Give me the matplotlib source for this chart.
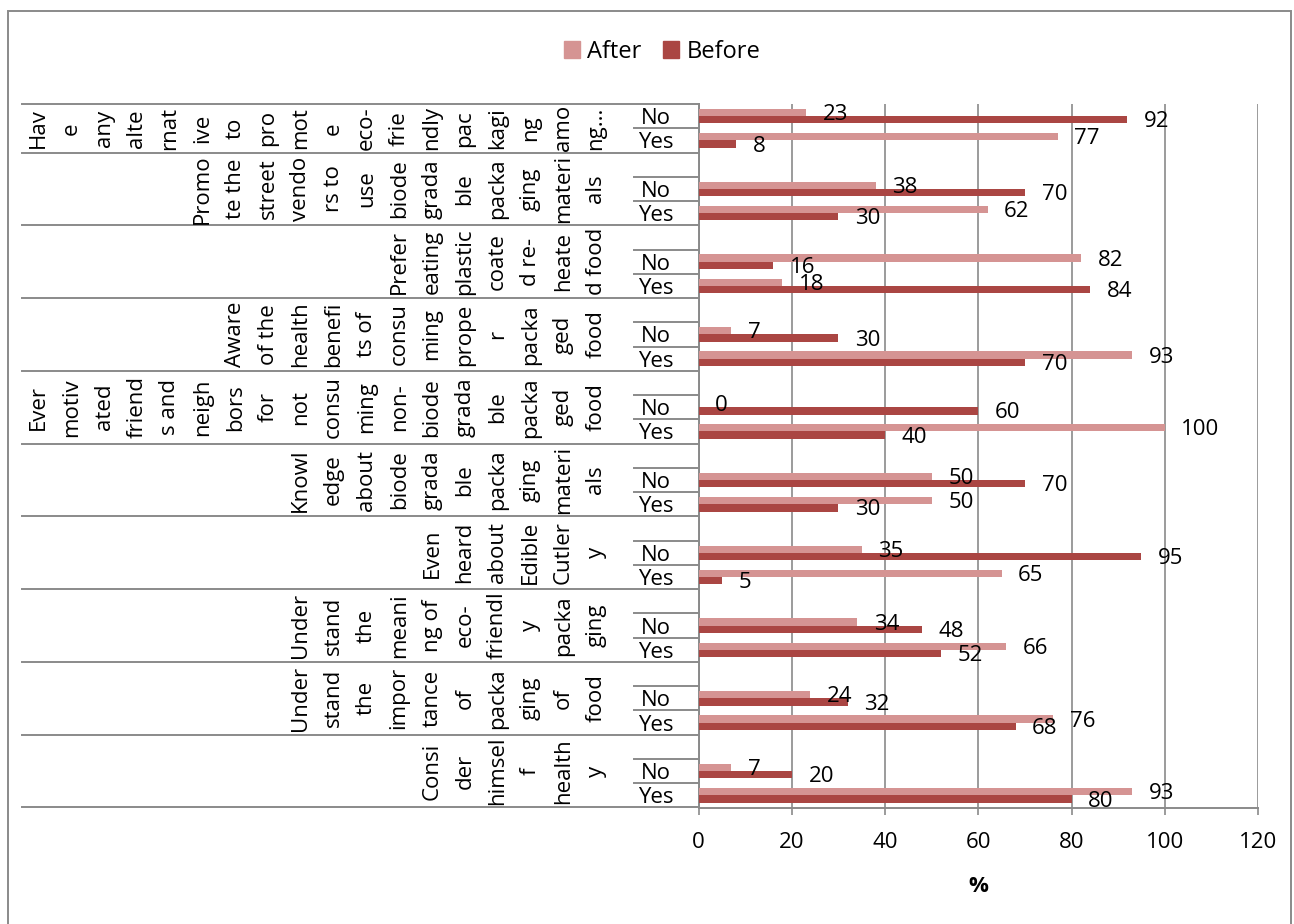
import matplotlib
matplotlib.use("Agg")
import matplotlib.pyplot as plt
from matplotlib.lines import Line2D
from matplotlib.patches import Patch, Rectangle
from matplotlib import transforms

plt.rcParams['font.family'] = ['Open Sans', 'DejaVu Sans']
plt.rcParams['font.size'] = 16

# questions, top to bottom, as the wrapped lines shown on the category axis
questions = [
    ["Hav", "e", "any", "alte", "rnat", "ive", "to", "pro", "mot", "e", "eco-",
     "frie", "ndly", "pac", "kagi", "ng", "amo", "ng..."],
    ["Promo", "te the", "street", "vendo", "rs to", "use", "biode", "grada",
     "ble", "packa", "ging", "materi", "als"],
    ["Prefer", "eating", "plastic", "coate", "d re-", "heate", "d food"],
    ["Aware", "of the", "health", "benefi", "ts of", "consu", "ming", "prope",
     "r", "packa", "ged", "food"],
    ["Ever", "motiv", "ated", "friend", "s and", "neigh", "bors", "for", "not",
     "consu", "ming", "non-", "biode", "grada", "ble", "packa", "ged", "food"],
    ["Knowl", "edge", "about", "biode", "grada", "ble", "packa", "ging",
     "materi", "als"],
    ["Even", "heard", "about", "Edible", "Cutler", "y"],
    ["Under", "stand", "the", "meani", "ng of", "eco-", "friendl", "y", "packa",
     "ging"],
    ["Under", "stand", "the", "impor", "tance", "of", "packa", "ging", "of",
     "food"],
    ["Consi", "der", "himsel", "f", "health", "y"],
]

answers = ["No", "Yes"]

# percentages per question (top to bottom), [No, Yes]
after = [
    [23, 77],
    [38, 62],
    [82, 18],
    [7, 93],
    [0, 100],
    [50, 50],
    [35, 65],
    [34, 66],
    [24, 76],
    [7, 93],
]
before = [
    [92, 8],
    [70, 30],
    [16, 84],
    [30, 70],
    [60, 40],
    [70, 30],
    [95, 5],
    [48, 52],
    [32, 68],
    [20, 80],
]

x_ticks = [0, 20, 40, 60, 80, 100, 120]

col_after = "#D59493"
col_before = "#AA4643"
grey = "#8A8A8A"

W, H = 1294, 924
fig = plt.figure(figsize=(W / 100, H / 100), dpi=100)
ax = fig.add_axes([698.5 / W, 1 - 807.5 / H, 559.5 / W, 703.5 / H])

n_groups = len(questions)
n_slots = 3 * n_groups - 1

# slot positions: each group has Yes, No and a spacer slot (none above the top group)
ypos = []
labels = []
vals_after = []
vals_before = []
for i in range(n_groups):
    g = n_groups - 1 - i  # group index from the bottom
    for k, ans in enumerate(answers):
        ypos.append(3 * g + (1 - k))
        labels.append(ans)
        vals_after.append(after[i][k])
        vals_before.append(before[i][k])

bh = 0.3
ya = [y + bh / 2 for y in ypos]
yb = [y - bh / 2 for y in ypos]
ax.barh(ya, vals_after, height=bh, color=col_after, label="After", zorder=3)
ax.barh(yb, vals_before, height=bh, color=col_before, label="Before", zorder=3)

for y, v in zip(ya, vals_after):
    ax.annotate(str(v), (v, y), xytext=(12, -1.5), textcoords="offset points",
                ha="left", va="center", zorder=4)
for y, v in zip(yb, vals_before):
    ax.annotate(str(v), (v, y), xytext=(12, -1.5), textcoords="offset points",
                ha="left", va="center", zorder=4)

ax.set_xlim(0, 120)
ax.set_ylim(-0.5, n_slots - 0.5)
ax.set_xticks(x_ticks)
ax.set_yticks(ypos, labels)
ax.tick_params(axis="y", length=0, pad=31)
for t in ax.get_yticklabels():
    t.set_ha("center")
ax.tick_params(axis="x", length=5, width=1.2, color=grey, pad=13)
ax.grid(axis="x", color=grey, linewidth=1.2, zorder=0)
ax.set_axisbelow(True)
for s in ["top", "right"]:
    ax.spines[s].set_visible(False)
for s in ["left", "bottom"]:
    ax.spines[s].set_color(grey)
    ax.spines[s].set_linewidth(1.4)
ax.set_xlabel("%", fontweight="bold", labelpad=16)

# category dividers and the wrapped question text
tr = transforms.blended_transform_factory(fig.transFigure, ax.transData)
x_axis = 698.5 / W
for g in range(n_groups):
    lo = 3 * g - 0.5
    fig.add_artist(Line2D([22 / W, x_axis], [lo, lo], transform=tr,
                          color=grey, linewidth=1.4))
    for b in ([lo + 1, lo + 2] if g < n_groups - 1 else [lo + 1]):
        fig.add_artist(Line2D([634 / W, x_axis], [b, b], transform=tr,
                              color=grey, linewidth=1.4))
top = n_slots - 0.5
fig.add_artist(Line2D([22 / W, x_axis], [top, top], transform=tr,
                      color=grey, linewidth=1.4))

pitch = 32.8
x_last = 596
for i, lines in enumerate(questions):
    g = n_groups - 1 - i
    lo = 3 * g - 0.5
    hi = min(3 * g + 2.5, top)
    yc = (lo + hi) / 2
    n = len(lines)
    for j, line in enumerate(lines):
        x = x_last - (n - 1 - j) * pitch
        fig.text(x / W, yc, line, transform=tr, rotation=90,
                 ha="center", va="center")

handles = [Patch(color=col_after, label="After"),
           Patch(color=col_before, label="Before")]
fig.legend(handles=handles, loc="center", bbox_to_anchor=(662 / W, 1 - 52 / H),
           ncol=2, frameon=False, handlelength=0.7, handleheight=0.7,
           handletextpad=0.3, columnspacing=0.9, fontsize=17)

fig.add_artist(Rectangle((8 / W, -0.02), 1283 / W, 1.02 - 11 / H,
                         transform=fig.transFigure, fill=False,
                         edgecolor=grey, linewidth=1.4))

fig.savefig("out.png", dpi=100)
